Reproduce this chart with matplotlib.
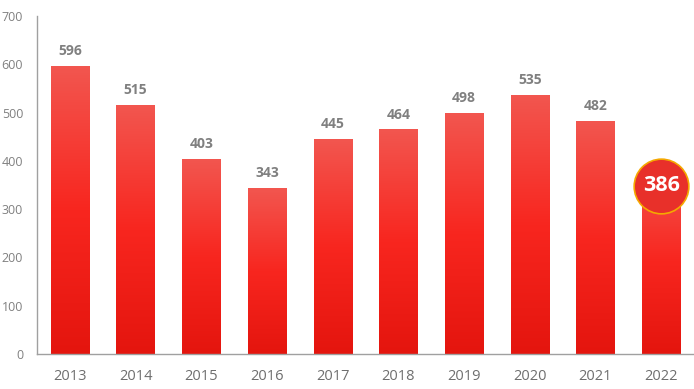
import numpy as np
import matplotlib
matplotlib.use("Agg")
import matplotlib.pyplot as plt
from matplotlib.colors import LinearSegmentedColormap

plt.rcParams['font.family'] = ['Open Sans', 'DejaVu Sans']

years = ['2013', '2014', '2015', '2016', '2017', '2018', '2019', '2020', '2021', '2022']
values = [596, 515, 403, 343, 445, 464, 498, 535, 482, 386]
y_ticks = [0, 100, 200, 300, 400, 500, 600, 700]

grey = '#808080'
bar_cmap = LinearSegmentedColormap.from_list('bar', ['#E4150E', '#F8261F', '#F2564F'])

fig = plt.figure(figsize=(6.94, 3.89), dpi=100)
ax = fig.add_axes([37 / 694, 35 / 389, 657 / 694, 338 / 389])

x = np.arange(len(years))
width = 0.58
grad = np.linspace(0, 1, 256).reshape(-1, 1)
for xi, v in zip(x, values):
    ax.imshow(grad, cmap=bar_cmap, origin='lower', aspect='auto',
              extent=(xi - width / 2, xi + width / 2, 0, v), zorder=2)

for xi, v in zip(x[:-1], values[:-1]):
    ax.annotate(str(v), (xi, v), xytext=(0, 6), textcoords='offset points',
                ha='center', va='bottom', fontsize=10, fontweight='bold', color=grey)

# highlighted last value
ax.scatter([x[-1]], [348], s=1550, color='#E8302A', edgecolor='#F5A800', linewidth=1.2, zorder=4)
ax.text(x[-1], 349, str(values[-1]), ha='center', va='center', fontsize=15.5,
        fontweight='bold', color='white', zorder=5)

ax.set_xlim(-0.5, len(years) - 0.5)
ax.set_ylim(0, 700)
ax.set_xticks(x)
ax.set_xticklabels(years, fontsize=10.5, color='#6e6e6e')
ax.set_yticks(y_ticks)
ax.set_yticklabels([str(t) for t in y_ticks], fontsize=9, color=grey)
ax.tick_params(axis='both', length=0)
ax.tick_params(axis='x', pad=11)
ax.tick_params(axis='y', pad=10)
for s in ['top', 'right']:
    ax.spines[s].set_visible(False)
for s in ['left', 'bottom']:
    ax.spines[s].set_color('#a0a0a0')
    ax.spines[s].set_linewidth(1)

fig.savefig('out.png', dpi=100)
